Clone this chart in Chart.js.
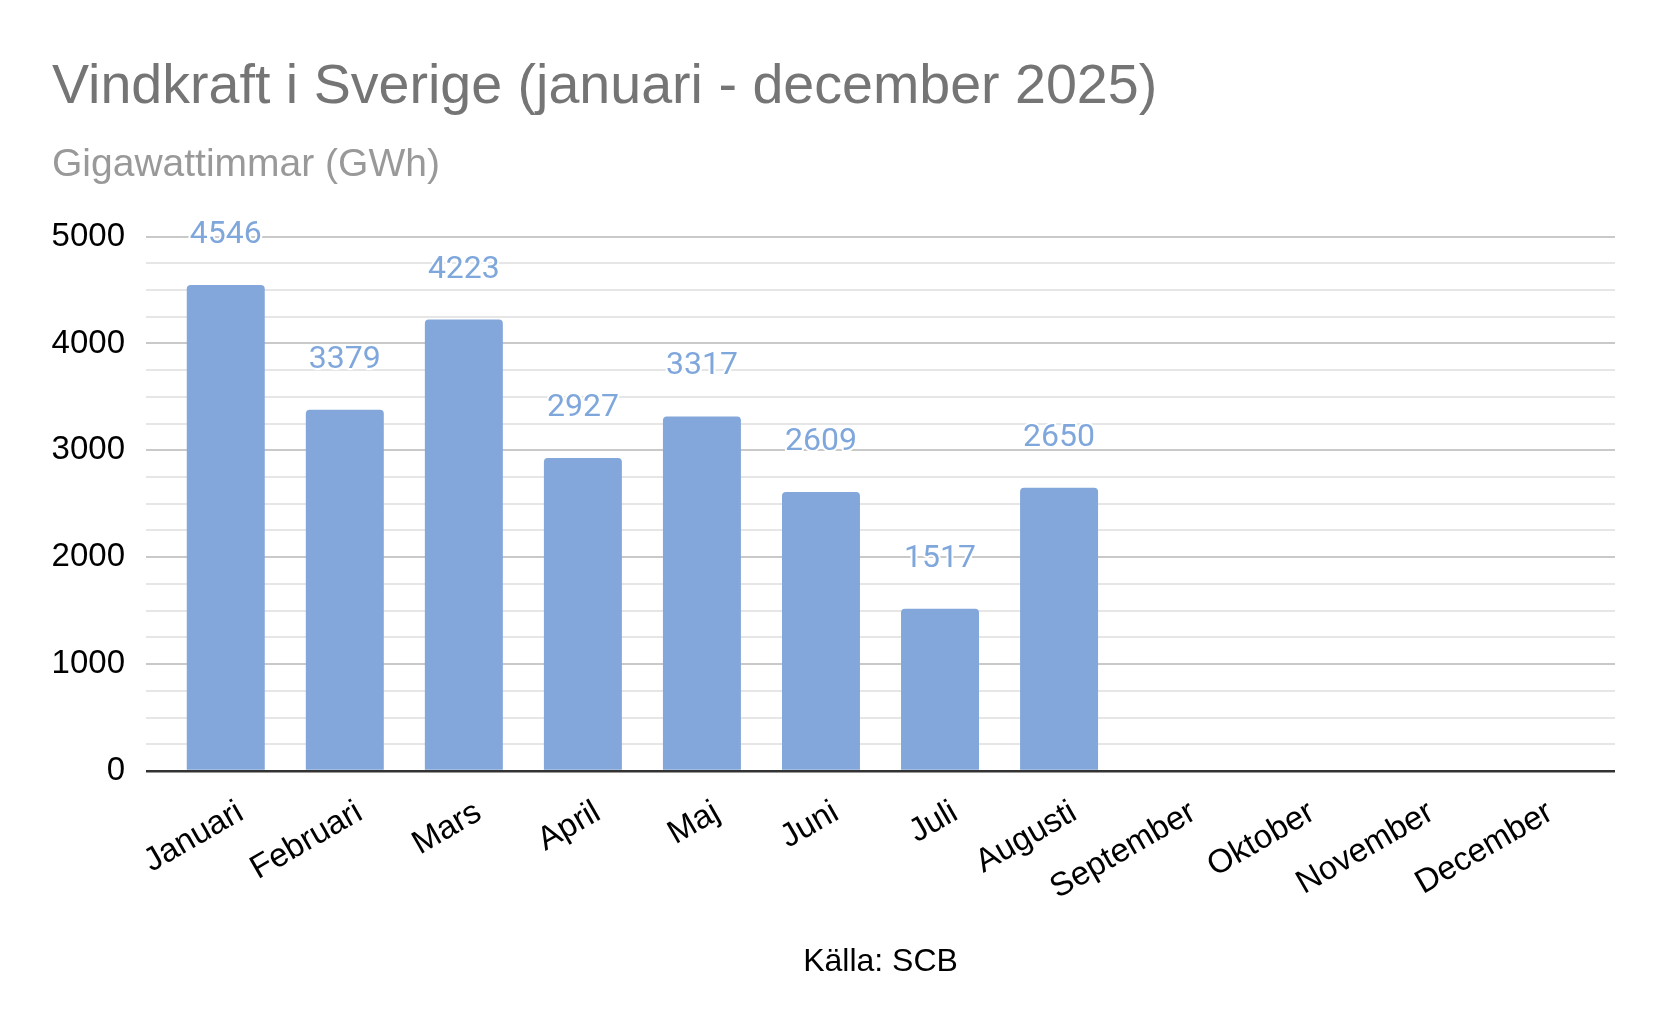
<!DOCTYPE html>
<html>
<head>
<meta charset="utf-8">
<title>Vindkraft i Sverige</title>
<script src="https://cdn.jsdelivr.net/npm/chart.js@4.4.1/dist/chart.umd.min.js"></script>
<style>
  html, body { margin: 0; padding: 0; background: #ffffff; }
  #chart { display: block; }
</style>
</head>
<body>
<canvas id="chart" width="1666" height="1030"></canvas>
<script>
// months on the x axis
const months = ['Januari', 'Februari', 'Mars', 'April', 'Maj', 'Juni', 'Juli', 'Augusti',
  'September', 'Oktober', 'November', 'December'];
// GWh per month (only januari - augusti reported so far)
const production = [4546, 3379, 4223, 2927, 3317, 2609, 1517, 2650];
const yTicks = [0, 1000, 2000, 3000, 4000, 5000];

const fontMain = "'Liberation Sans', Arial, Helvetica, sans-serif";

// draws the value above each bar, with a white halo like the original
const valueLabels = {
  id: 'valueLabels',
  afterDatasetsDraw(chart) {
    const ctx = chart.ctx;
    const meta = chart.getDatasetMeta(0);
    ctx.save();
    ctx.font = "32px Roboto, 'Noto Sans', sans-serif";
    ctx.textAlign = 'center';
    ctx.textBaseline = 'alphabetic';
    ctx.lineJoin = 'round';
    ctx.lineWidth = 4;
    ctx.strokeStyle = '#ffffff';
    ctx.fillStyle = '#7fa7dc';
    meta.data.forEach((bar, i) => {
      const txt = String(production[i]);
      ctx.strokeText(txt, bar.x, bar.y - 42);
      ctx.fillText(txt, bar.x, bar.y - 42);
    });
    ctx.restore();
  }
};

const ctx = document.getElementById('chart').getContext('2d');
new Chart(ctx, {
  type: 'bar',
  data: {
    datasets: [{
      label: 'Vindkraft',
      data: production.map((v, i) => ({ x: i, y: v })),
      backgroundColor: '#83a7da',
      borderRadius: 4,
      borderSkipped: 'start',
      categoryPercentage: 1,
      barPercentage: 0.655
    }]
  },
  options: {
    responsive: false,
    animation: false,
    layout: {
      padding: { left: 52, right: 51, top: 0, bottom: 0 }
    },
    plugins: {
      legend: { display: false },
      tooltip: { enabled: false },
      title: {
        display: true,
        text: 'Vindkraft i Sverige (januari - december 2025)',
        align: 'start',
        color: '#757575',
        font: { family: fontMain, size: 55.6, weight: 'normal' },
        padding: { top: 54, bottom: 0 }
      },
      subtitle: {
        display: true,
        text: 'Gigawattimmar (GWh)',
        align: 'start',
        color: '#999999',
        font: { family: fontMain, size: 39, weight: 'normal' },
        padding: { top: 21, bottom: 48 }
      }
    },
    scales: {
      x: {
        type: 'linear',
        offset: false,
        min: -0.67,
        max: 11.67,
        afterBuildTicks: (scale) => {
          scale.ticks = months.map((m, i) => ({ value: i }));
        },
        afterFit: (scale) => {
          scale.height = 1030 - 771;
          // let the rotated labels hang outside, like the original
          scale.paddingLeft = 0;
          scale.paddingRight = 0;
        },
        grid: { display: false, drawTicks: false, offset: false },
        border: { display: false },
        ticks: {
          autoSkip: false,
          minRotation: 30,
          maxRotation: 30,
          padding: 22,
          labelOffset: 15,
          color: '#000000',
          font: { family: fontMain, size: 33 },
          callback: (value) => months[value] ?? ''
        },
        title: {
          display: true,
          text: 'Källa: SCB',
          color: '#000000',
          font: { family: fontMain, size: 32 },
          padding: { top: 0, bottom: 49 }
        }
      },
      y: {
        min: 0,
        max: 5000,
        afterBuildTicks: (scale) => {
          // minor lines every 250, labels only on the thousands
          const t = [];
          for (let v = 0; v <= 5000; v += 250) t.push({ value: v });
          scale.ticks = t;
        },
        afterFit: (scale) => {
          scale.width = 94;
        },
        border: { display: false },
        grid: {
          drawTicks: false,
          lineWidth: (c) => (c.tick && c.tick.value === 0 ? 2.5 : 2),
          color: (c) => {
            const v = c.tick ? c.tick.value : 1;
            if (v === 0) return '#333333';
            if (yTicks.includes(v)) return '#c9c9c9';
            return '#e6e6e6';
          }
        },
        ticks: {
          autoSkip: false,
          padding: 21,
          color: '#000000',
          font: { family: fontMain, size: 33 },
          callback: (value) => (yTicks.includes(value) ? String(value) : '')
        }
      }
    }
  },
  plugins: [valueLabels]
});
</script>
</body>
</html>
